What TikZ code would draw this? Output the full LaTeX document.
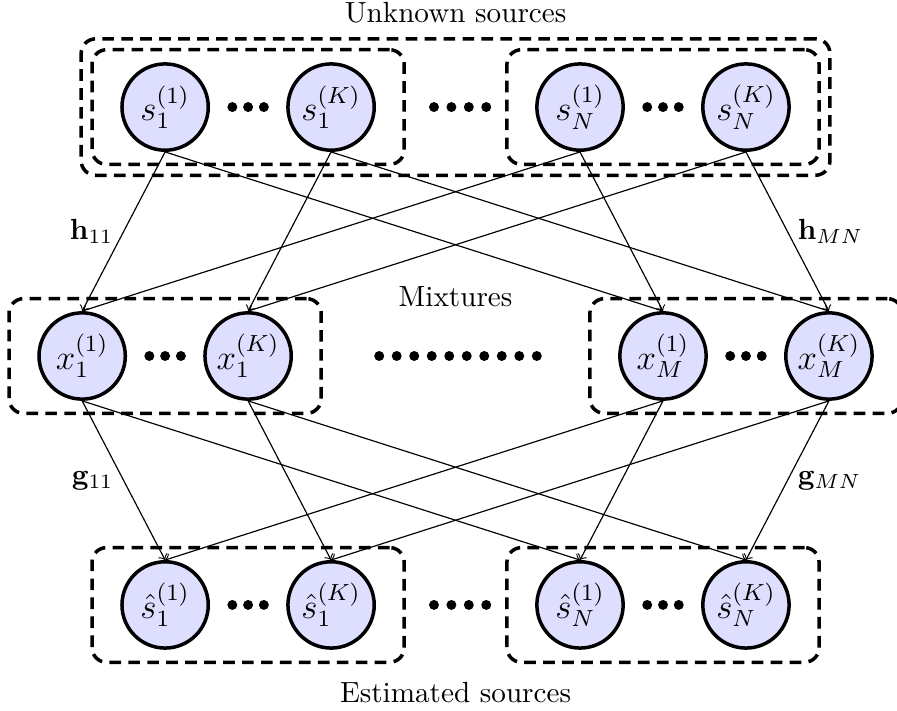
\documentclass[tikz,border=0pt]{standalone}
\usetikzlibrary{fit}

\tikzset{
  src/.style={circle, draw, very thick, fill=blue!13, minimum size=1.04cm, inner sep=0pt,
    font=\large},
  group/.style={draw, very thick, dash pattern=on 4pt off 2.5pt, rounded corners=5pt,
    inner xsep=0.34cm, inner ysep=0.15cm},
  outergroup/.style={draw, very thick, dash pattern=on 4pt off 2.5pt, rounded corners=5pt,
    inner sep=0.11cm},
}

\begin{document}
\begin{tikzpicture}
  \useasboundingbox (-0.99,-4.27) rectangle (9.82,4.29);

  % Unknown sources
  \node[src] (s11) at (1,3) {$s_1^{(1)}$};
  \node[src] (s1K) at (3,3) {$s_1^{(K)}$};
  \node[src] (sN1) at (6,3) {$s_N^{(1)}$};
  \node[src] (sNK) at (8,3) {$s_N^{(K)}$};

  % Mixtures
  \node[src] (x11) at (0,0) {$x_1^{(1)}$};
  \node[src] (x1K) at (2,0) {$x_1^{(K)}$};
  \node[src] (xM1) at (7,0) {$x_M^{(1)}$};
  \node[src] (xMK) at (9,0) {$x_M^{(K)}$};

  % Estimated sources
  \node[src] (e11) at (1,-3) {$\hat{s}_1^{(1)}$};
  \node[src] (e1K) at (3,-3) {$\hat{s}_1^{(K)}$};
  \node[src] (eN1) at (6,-3) {$\hat{s}_N^{(1)}$};
  \node[src] (eNK) at (8,-3) {$\hat{s}_N^{(K)}$};

  % Groups
  \node[group, fit=(s11)(s1K)] (gs1) {};
  \node[group, fit=(sN1)(sNK)] (gsN) {};
  \node[outergroup, fit=(gs1)(gsN)] (gsrc) {};
  \node[group, fit=(x11)(x1K)] (gx1) {};
  \node[group, fit=(xM1)(xMK)] (gxM) {};
  \node[group, fit=(e11)(e1K)] (ge1) {};
  \node[group, fit=(eN1)(eNK)] (geN) {};

  % Dots
  \foreach \y in {3,-3} {
    \foreach \x in {1.81,2,2.19,6.81,7,7.19} \fill (\x,\y) circle (0.06);
    \foreach \x in {4.24,4.45,4.66,4.87} \fill (\x,\y) circle (0.06);
  }
  \foreach \x in {0.81,1,1.19,7.81,8,8.19} \fill (\x,0) circle (0.06);
  \foreach \i in {0,...,9} \fill (3.58+0.211*\i,0) circle (0.06);

  % Labels
  \node (lblsrc) at (4.5,4.14) {Unknown sources};
  \node (lblmix) at (4.5,0.71) {Mixtures};
  \node (lblest) at (4.5,-4.05) {Estimated sources};

  % Mixing
  \draw[->] (s11.south) -- (x11.north) node[midway,left] {$\mathbf{h}_{11}$};
  \draw[->] (s11.south) -- (xM1.north);
  \draw[->] (s1K.south) -- (x1K.north);
  \draw[->] (s1K.south) -- (xMK.north);
  \draw[->] (sN1.south) -- (x11.north);
  \draw[->] (sN1.south) -- (xM1.north);
  \draw[->] (sNK.south) -- (x1K.north);
  \draw[->] (sNK.south) -- (xMK.north) node[midway,right] {$\mathbf{h}_{MN}$};

  % Separation
  \draw[->] (x11.south) -- (e11.north) node[midway,left] {$\mathbf{g}_{11}$};
  \draw[->] (x11.south) -- (eN1.north);
  \draw[->] (x1K.south) -- (e1K.north);
  \draw[->] (x1K.south) -- (eNK.north);
  \draw[->] (xM1.south) -- (e11.north);
  \draw[->] (xM1.south) -- (eN1.north);
  \draw[->] (xMK.south) -- (e1K.north);
  \draw[->] (xMK.south) -- (eNK.north) node[midway,right] {$\mathbf{g}_{MN}$};
\end{tikzpicture}
\end{document}
